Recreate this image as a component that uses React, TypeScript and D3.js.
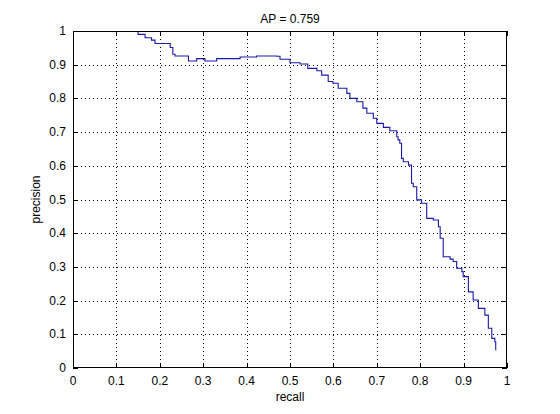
import {useEffect, useRef} from 'react';
import * as d3 from 'd3';

// precision/recall points
const recall = [0.150, 0.150, 0.166, 0.181, 0.189, 0.216, 0.224, 0.230, 0.235, 0.266, 0.285, 0.304, 0.331, 0.385, 0.423,
	0.469, 0.477, 0.500, 0.523, 0.541, 0.562, 0.573, 0.588, 0.599, 0.611, 0.631, 0.638, 0.654, 0.668, 0.677, 0.692,
	0.700, 0.715, 0.730, 0.746, 0.749, 0.753, 0.757, 0.761, 0.773, 0.780, 0.784, 0.792, 0.803, 0.815, 0.830, 0.842,
	0.846, 0.853, 0.869, 0.876, 0.884, 0.896, 0.899, 0.911, 0.922, 0.934, 0.949, 0.957, 0.965, 0.972, 0.974];
const precision = [1.000, 0.990, 0.980, 0.973, 0.963, 0.963, 0.951, 0.931, 0.926, 0.911, 0.918, 0.911, 0.918, 0.923, 0.926,
	0.925, 0.916, 0.906, 0.902, 0.889, 0.882, 0.869, 0.850, 0.845, 0.830, 0.815, 0.800, 0.790, 0.771, 0.756, 0.741,
	0.726, 0.714, 0.704, 0.686, 0.677, 0.667, 0.622, 0.612, 0.602, 0.548, 0.538, 0.499, 0.489, 0.444, 0.439, 0.419,
	0.385, 0.330, 0.323, 0.316, 0.296, 0.286, 0.271, 0.226, 0.202, 0.177, 0.157, 0.118, 0.088, 0.078, 0.053];
const ticks = [0, 0.1, 0.2, 0.3, 0.4, 0.5, 0.6, 0.7, 0.8, 0.9, 1];
const title = 'AP = 0.759';

function App(){
	const ref = useRef<SVGSVGElement>(null);

	useEffect(()=>{
		const svg = d3.select(ref.current);
		svg.selectAll('*').remove();

		const left = 73, right = 507, top = 31, bottom = 368
			, x = d3.scaleLinear().domain([0, 1]).range([left, right])
			, y = d3.scaleLinear().domain([0, 1]).range([bottom, top])
			, font = 'Arial, "Liberation Sans", sans-serif'
			;

		svg.append('rect').attr('width', 560).attr('height', 414).attr('fill', '#fff');

		// grid
		const grid = svg.append('g').attr('stroke', '#000').attr('stroke-width', 1).attr('stroke-dasharray', '1,3');
		ticks.slice(1, -1).forEach((t)=>{
			grid.append('line').attr('x1', Math.round(x(t)) + 0.5).attr('x2', Math.round(x(t)) + 0.5).attr('y1', top).attr('y2', bottom);
			grid.append('line').attr('y1', Math.round(y(t)) + 0.5).attr('y2', Math.round(y(t)) + 0.5).attr('x1', left).attr('x2', right);
		});

		// curve
		const line = d3.line<number>()
			.x((d, i)=>x(recall[i]))
			.y((d)=>y(d))
			.curve(d3.curveStepAfter);
		svg.append('path').datum(precision).attr('d', line).attr('fill', 'none').attr('stroke', '#1818a8').attr('stroke-width', 1.1);

		// box + ticks
		const ax = svg.append('g').attr('stroke', '#000').attr('stroke-width', 1);
		ax.append('rect').attr('x', left + 0.5).attr('y', top + 0.5).attr('width', right - left - 1).attr('height', bottom - top - 1).attr('fill', 'none');
		ticks.forEach((t)=>{
			const px = Math.round(x(t)) + 0.5, py = Math.round(y(t)) + 0.5;
			ax.append('line').attr('x1', px).attr('x2', px).attr('y1', bottom).attr('y2', bottom - 5);
			ax.append('line').attr('x1', px).attr('x2', px).attr('y1', top).attr('y2', top + 5);
			ax.append('line').attr('y1', py).attr('y2', py).attr('x1', left).attr('x2', left + 5);
			ax.append('line').attr('y1', py).attr('y2', py).attr('x1', right).attr('x2', right - 5);
		});

		const lab = svg.append('g').attr('font-family', font).attr('font-size', 12).attr('fill', '#000');
		ticks.forEach((t)=>{
			lab.append('text').attr('x', x(t)).attr('y', bottom + 17).attr('text-anchor', 'middle').text(String(t));
			lab.append('text').attr('x', left - 7).attr('y', y(t) + 4).attr('text-anchor', 'end').text(String(t));
		});
		lab.append('text').attr('x', (left + right) / 2).attr('y', 401).attr('text-anchor', 'middle').text('recall');
		lab.append('text').attr('transform', `translate(40,${(top + bottom) / 2}) rotate(-90)`).attr('text-anchor', 'middle').text('precision');
		lab.append('text').attr('x', (left + right) / 2).attr('y', 23).attr('text-anchor', 'middle').text(title);
	}, []);

	return (<svg ref={ref} width={560} height={414} style={{display: 'block', position: 'absolute', left: 0, top: 0}}></svg>);
}

export default App;
